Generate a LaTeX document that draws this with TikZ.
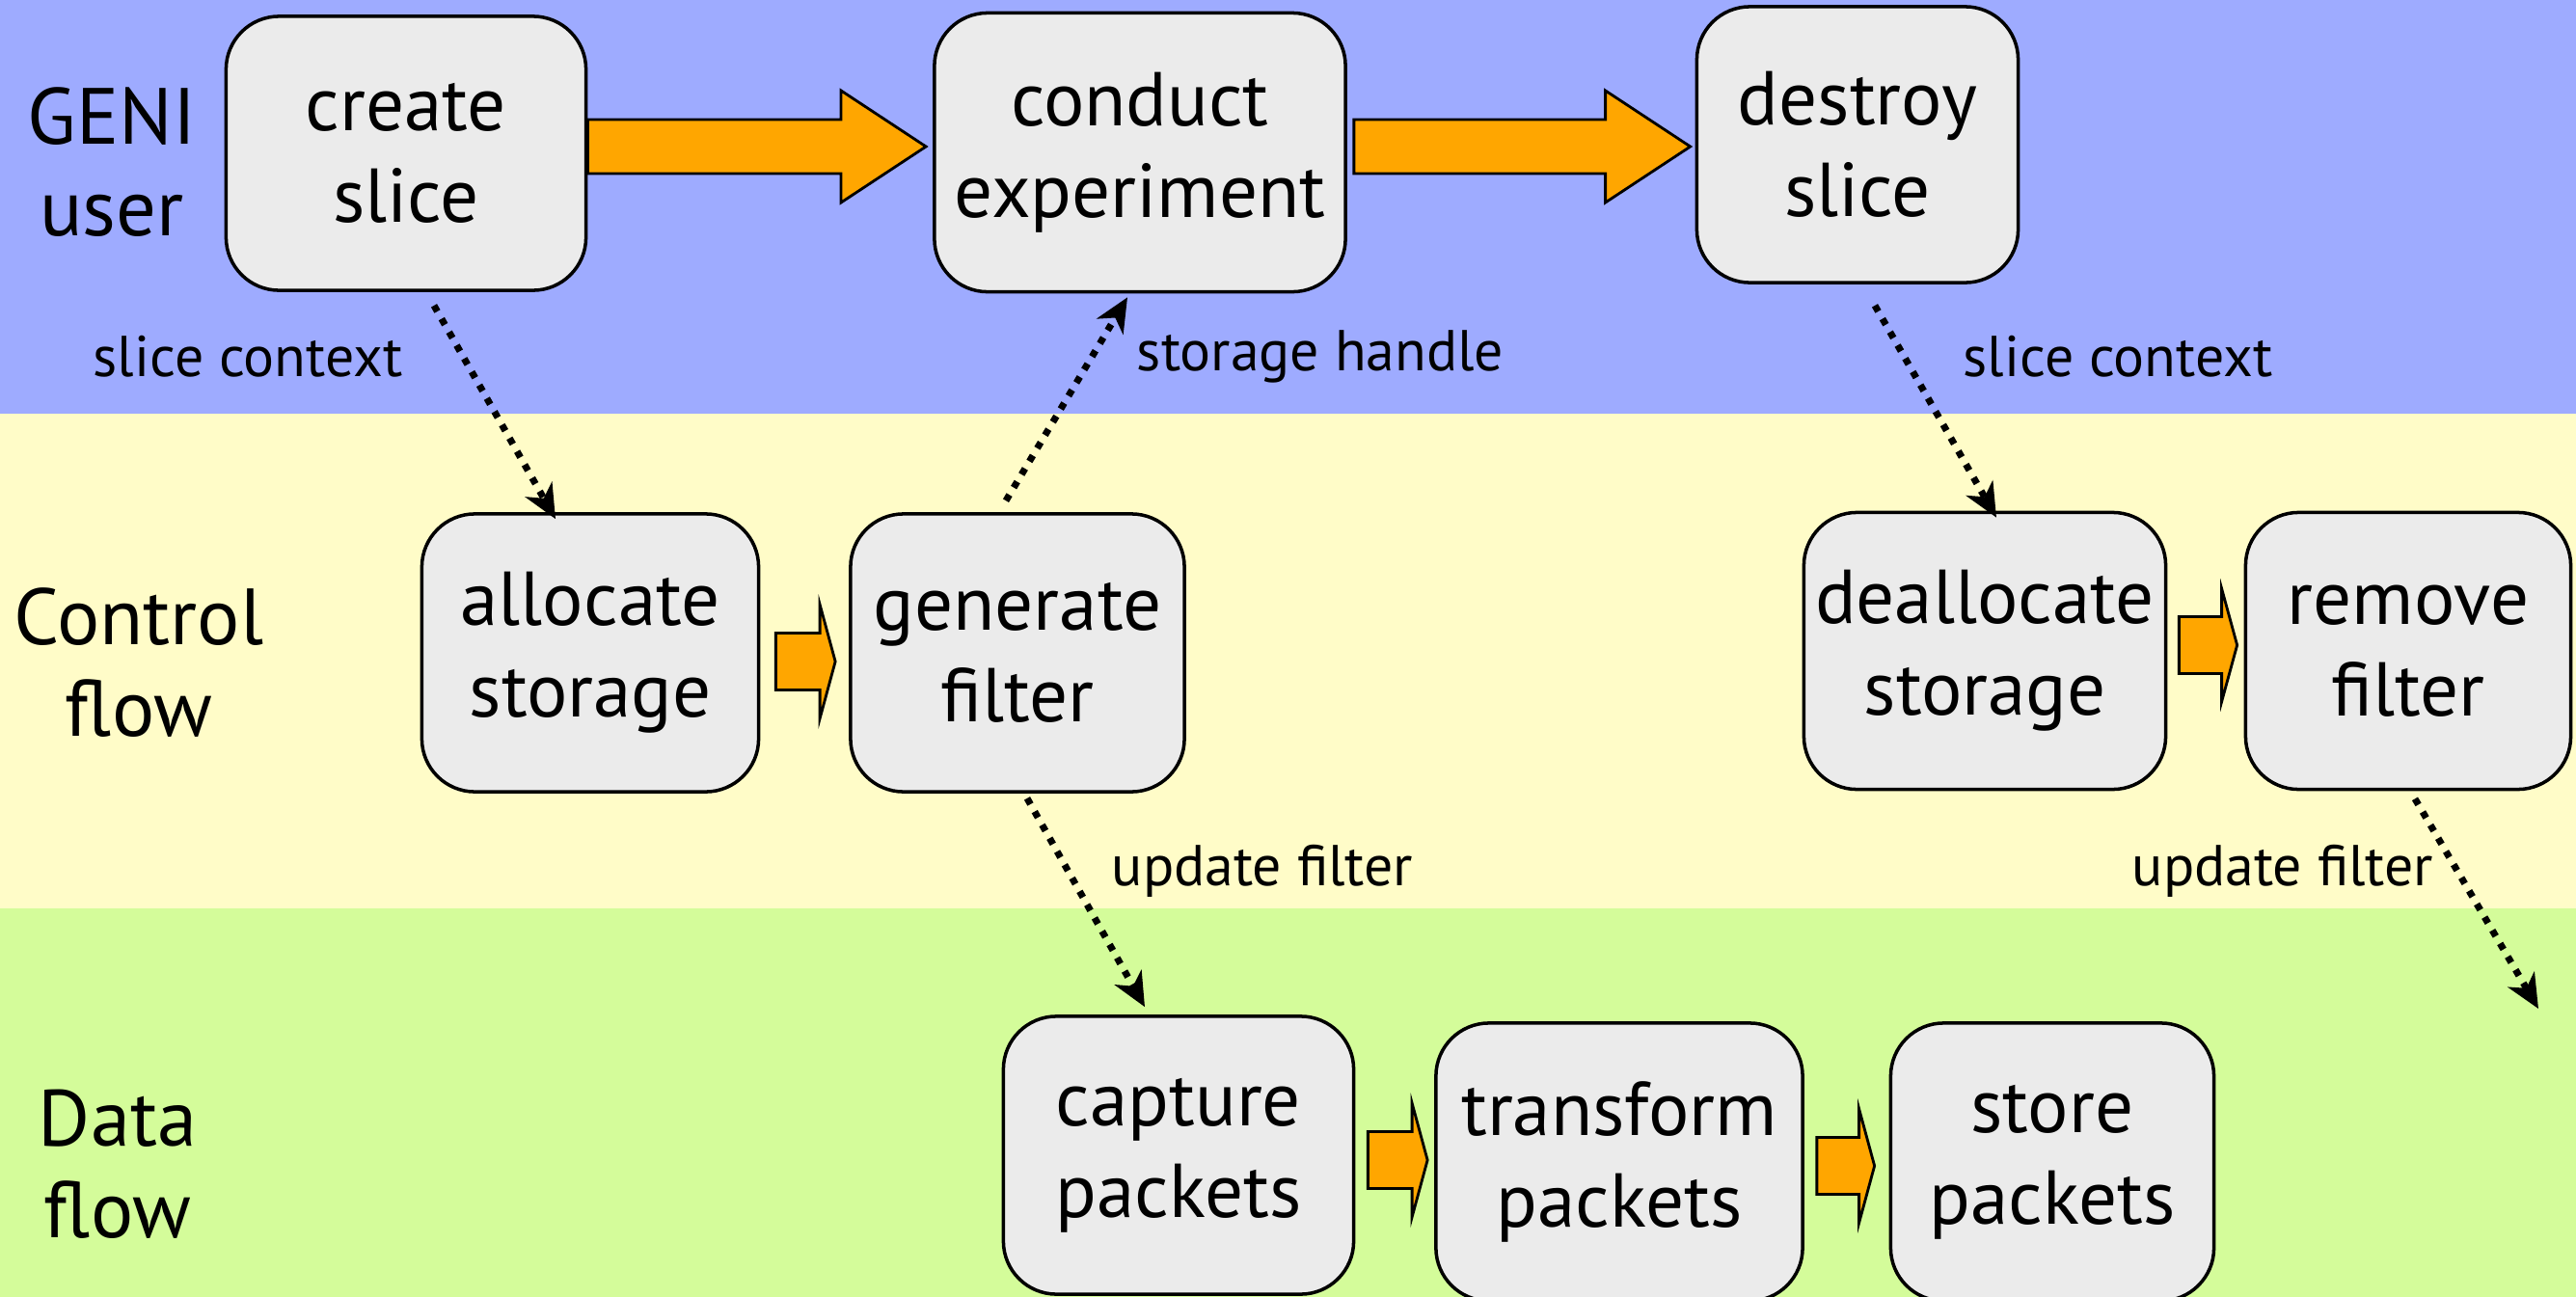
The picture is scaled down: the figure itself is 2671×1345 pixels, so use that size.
\documentclass[tikz,border=0pt]{standalone}
\usepackage{fontspec}
\setmainfont{PT Sans}
\usetikzlibrary{calc,arrows.meta}

\definecolor{userband}{RGB}{158,171,255}
\definecolor{controlband}{RGB}{255,252,200}
\definecolor{databand}{RGB}{212,252,154}
\definecolor{boxgray}{RGB}{235,235,235}
\definecolor{flowfill}{RGB}{255,166,0}

% fat arrow: tail, tip, shaft half width, head half width, head length
\newcommand{\fatarrow}[5]{%
  \filldraw[flowarrow] let \p1=#1, \p2=#2 in
    (\x1,\y2+#3) -- (\x2-#5,\y2+#3) -- (\x2-#5,\y2+#4) -- (\x2,\y2)
    -- (\x2-#5,\y2-#4) -- (\x2-#5,\y2-#3) -- (\x1,\y2-#3) -- cycle;}

\begin{document}
\begin{tikzpicture}[x=0.01cm,y=-0.01cm,line width=1pt,
	task/.style={draw,fill=boxgray,rounded corners=0.55cm,align=center,inner sep=0pt,
		minimum height=2.88cm,font=\fontsize{22.5}{27}\selectfont},
	lane/.style={align=center,font=\fontsize{23.5}{27}\selectfont},
	info/.style={font=\fontsize{17}{20}\selectfont},
	handoff/.style={line width=2pt,dash pattern=on 2pt off 2.5pt,
		-{Stealth[length=10pt,width=9pt,inset=3pt]}},
	flowarrow/.style={fill=flowfill,draw=black,line width=0.8pt}]
\useasboundingbox (0,0) rectangle (2671,1345);

% swim lanes
\fill[userband] (0,0) rectangle (2671,429);
\fill[controlband] (0,429) rectangle (2671,942);
\fill[databand] (0,942) rectangle (2671,1345);

\node[lane] (lgeni) at (116,168) {GENI\\user};
\node[lane] (lcontrol) at (144,687) {Control\\flow};
\node[lane] (ldata) at (122,1207) {Data\\flow};

% GENI user
\node[task,minimum width=3.73cm,minimum height=2.84cm] (create) at (421,159) {create\\slice};
\node[task,minimum width=4.26cm,minimum height=2.89cm] (conduct) at (1182,158) {conduct\\experiment};
\node[task,minimum width=3.33cm,minimum height=2.86cm] (destroy) at (1926,150) {destroy\\slice};

% control flow
\node[task,minimum width=3.49cm] (alloc) at (612,677) {allocate\\storage};
\node[task,minimum width=3.46cm] (genfilter) at (1055,677) {generate\\filter};
\node[task,minimum width=3.75cm,minimum height=2.87cm] (dealloc) at (2058,675) {deallocate\\storage};
\node[task,minimum width=3.37cm,minimum height=2.87cm] (rmfilter) at (2497,675) {remove\\filter};

% data flow
\node[task,minimum width=3.63cm] (capture) at (1222,1198) {capture\\packets};
\node[task,minimum width=3.80cm] (transform) at (1679,1205) {transform\\packets};
\node[task,minimum width=3.35cm] (store) at (2128,1205) {store\\packets};

\fatarrow{($(create.east)+(0,-7)$)}{($(conduct.west)+(-7,-6)$)}{0.28cm}{0.58cm}{0.88cm}
\fatarrow{($(conduct.east)+(7,0)$)}{($(destroy.west)+(-5,2)$)}{0.28cm}{0.58cm}{0.88cm}
\fatarrow{($(alloc.east)+(16,0)$)}{($(genfilter.west)+(-14,9)$)}{0.295cm}{0.59cm}{0.16cm}
\fatarrow{($(dealloc.east)+(12,0)$)}{($(rmfilter.west)+(-7,-6)$)}{0.295cm}{0.585cm}{0.16cm}
\fatarrow{($(capture.east)+(13,0)$)}{($(transform.west)+(-7,-2)$)}{0.295cm}{0.59cm}{0.16cm}
\fatarrow{($(transform.east)+(13,0)$)}{($(store.west)+(-15,4)$)}{0.295cm}{0.59cm}{0.16cm}

% hand-offs between lanes
\coordinate (drop) at (2632,1046);
\draw[handoff] ($(create.south)+(29,14)$) -- ($(alloc.north)+(-36,7)$);
\draw[handoff] ($(genfilter.north)+(-12,-12)$) -- ($(conduct.south)+(-13,4)$);
\draw[handoff] ($(destroy.south)+(18,22)$) -- ($(dealloc.north)+(12,7)$);
\draw[handoff] ($(genfilter.south)+(10,5)$) -- ($(capture.north)+(-35,-8)$);
\draw[handoff] ($(rmfilter.south)+(7,8)$) -- (drop);

\node[info] (ctx1) at (257,370) {slice context};
\node[info] (handle) at (1369,370) {storage handle};
\node[info] (ctx2) at (2196,370) {slice context};
\node[info] (upd1) at (1309,903) {update filter};
\node[info] (upd2) at (2367,903) {update filter};
\end{tikzpicture}
\end{document}
